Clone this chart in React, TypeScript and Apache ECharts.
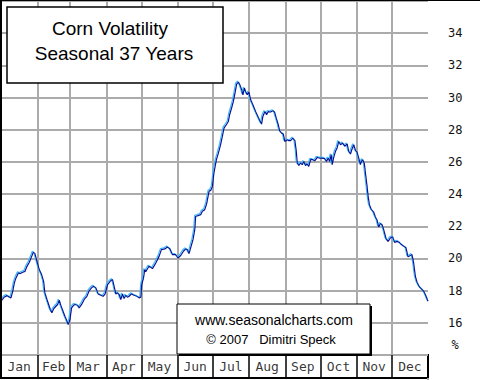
import React, { useEffect, useRef } from "react";
import * as echarts from "echarts";

const monthNames = ["Jan", "Feb", "Mar", "Apr", "May", "Jun", "Jul", "Aug", "Sep", "Oct", "Nov", "Dec"];
const monthStarts = [0, 31, 59, 90, 120, 151, 181, 212, 243, 273, 304, 334, 365];

const yMin = 14;
const yMax = 36;
const yStep = 2;

const days = [
  0.5, 3, 5, 7, 8.5, 10, 11.4, 12.8, 14.8, 16.5,
  18.5, 20.5, 22.2, 24.2, 26.2, 27.6, 29, 30.7, 32.7, 34.7,
  36.4, 37.5, 39.3, 40.7, 42.1, 43.5, 45, 46.9, 48.4, 49.8,
  51.2, 52.7, 54.6, 56.1, 57.4, 58.9, 60.3, 62, 63.2, 65.5,
  66.8, 68.9, 71.1, 73.4, 75.4, 77.4, 79.1, 81.1, 83, 85.3,
  87.3, 89, 91.1, 93.3, 95.3, 96.7, 98.1, 99.6, 101, 102.4,
  103.9, 105.2, 106.7, 108.1, 109.5, 111.5, 113.8, 116.1, 118, 119.5,
  120.3, 121.8, 122.9, 123.7, 125.7, 126.6, 129.5, 132.3, 135.1, 137.1,
  140, 142.3, 144.5, 146.5, 149.3, 151.3, 153.6, 155.9, 157.9, 159.3,
  160.7, 162.1, 164.1, 165.6, 166.4, 168.4, 170.7, 172.1, 174.1, 175.8,
  177.8, 179.2, 180.7, 181.5, 182, 184.1, 185.8, 187.7, 189.2, 190.6,
  192.6, 194.3, 195.4, 197.1, 198.6, 200, 201.4, 202.9, 204.2, 205.7,
  206.8, 208, 209.1, 210.5, 211.9, 213.4, 215.3, 217.6, 219.6, 221.3,
  222.7, 223.8, 225.6, 227, 228.5, 230.4, 232.4, 233.8, 235.3, 237,
  238.1, 239.8, 241.3, 242.6, 244.7, 246, 247.5, 249.5, 251.2, 252.4,
  253.2, 254.6, 256, 257.5, 258.8, 260.3, 261.7, 263.1, 264.6, 266.5,
  268.2, 270.3, 272.2, 274.5, 276.8, 278.2, 279.7, 281, 282.2, 283.1,
  284.4, 285.9, 287.3, 288.7, 290.2, 292.1, 293.8, 295.9, 297.2, 298.7,
  300.1, 301.5, 303, 304.4, 305.8, 307.2, 308.1, 309.2, 310.6, 311.5,
  312.9, 313.8, 314.9, 316.6, 318.6, 320, 321.5, 322.8, 324.3, 325.7,
  327.1, 329.2, 330.9, 332.8, 334.8, 336.5, 338.5, 340.5, 342.2, 344.2,
  346.2, 347.9, 349.9, 351.3, 352.7, 354.2, 355.6, 357.6, 359.9, 361.3,
  362.7, 364.2, 365,
];

const volatility = [
  17.4, 17.61, 17.69, 17.61, 17.55, 17.96, 18.48, 18.79, 19.1, 19.06,
  19.14, 19.2, 19.51, 19.76, 20.13, 20.38, 20.3, 19.82, 19.31, 19.0,
  18.58, 17.86, 17.45, 17.14, 16.83, 16.62, 16.87, 17.03, 17.14, 17.4,
  17.07, 16.78, 16.41, 16.16, 15.89, 16.2, 16.93, 17.09, 17.14, 17.09,
  16.93, 17.14, 17.45, 17.65, 18.0, 18.17, 18.27, 18.17, 17.8, 17.71,
  17.65, 17.8, 18.38, 18.58, 18.69, 18.27, 17.8, 17.86, 17.76, 17.45,
  17.8, 17.51, 17.71, 17.59, 17.65, 17.8, 17.71, 17.65, 17.55, 17.59,
  18.38, 18.79, 19.31, 19.17, 19.42, 19.52, 19.37, 19.72, 20.13, 20.55,
  20.59, 20.71, 20.59, 20.24, 20.24, 20.03, 20.18, 20.45, 20.59, 20.55,
  20.3, 20.66, 21.17, 21.79, 22.62, 22.66, 22.72, 22.93, 23.03, 23.41,
  24.17, 24.23, 24.48, 25.0, 25.31, 26.14, 26.55, 27.07, 27.58, 28.1,
  28.31, 28.51, 28.93, 29.35, 29.76, 30.28, 30.84, 30.96, 30.79, 30.48,
  30.17, 30.59, 30.38, 30.17, 30.34, 29.86, 29.55, 29.13, 28.82, 28.55,
  28.35, 28.82, 29.13, 28.93, 29.13, 29.1, 29.18, 29.1, 28.72, 28.31,
  27.94, 27.79, 27.73, 27.27, 27.38, 27.32, 27.32, 27.48, 27.32, 26.66,
  25.93, 25.78, 25.93, 25.83, 26.03, 25.78, 25.87, 25.72, 26.14, 26.14,
  26.07, 26.28, 26.24, 26.24, 26.2, 26.03, 26.24, 26.03, 26.45, 25.83,
  26.28, 26.66, 26.87, 27.27, 27.07, 27.17, 26.97, 27.12, 26.66, 26.49,
  26.82, 27.07, 26.71, 26.59, 26.24, 25.83, 26.03, 26.14, 25.89, 25.31,
  24.48, 23.86, 23.34, 23.03, 22.87, 22.58, 22.37, 21.96, 22.17, 22.1,
  21.79, 21.21, 21.06, 21.27, 21.34, 21.0, 21.06, 21.0, 20.86, 20.76,
  20.66, 20.1, 20.18, 20.24, 19.72, 18.89, 18.52, 18.24, 18.07, 17.96,
  17.76, 17.49, 17.34,
];

const titleLines = ["Corn Volatility", "Seasonal 37 Years"];
const creditLines = ["www.seasonalcharts.com", "\u00a9 2007   Dimitri Speck"];
const unitLabel = "%";

export default function App() {
  const ref = useRef<HTMLDivElement>(null);

  useEffect(() => {
    if (!ref.current) return;
    const chart = echarts.init(ref.current, null, { renderer: "svg" });

    const n = Math.min(days.length, volatility.length);
    const lineData = [];
    for (let i = 0; i < n; i++) lineData.push([days[i], volatility[i]]);

    const boundaries = monthStarts.slice(1, monthStarts.length - 1);
    const mids = monthNames.map((_, i) => [(monthStarts[i] + monthStarts[i + 1]) / 2, 0.5]);

    const monoFont = "DejaVu Sans Mono";
    const sansFont = "Liberation Sans, Arial, sans-serif";

    chart.setOption({
      animation: false,
      backgroundColor: "#ffffff",
      grid: [
        { left: 1, top: 1, width: 427, height: 354, show: false },
        {
          left: 1,
          top: 355,
          width: 427,
          height: 23,
          show: true,
          borderColor: "#000",
          borderWidth: 2,
          backgroundColor: "#ffffff",
        },
      ],
      xAxis: [
        {
          gridIndex: 0,
          type: "value",
          min: 0,
          max: 365,
          axisLine: { show: false },
          axisTick: { show: false },
          axisLabel: { show: false },
          splitLine: { show: false },
        },
        {
          gridIndex: 1,
          type: "value",
          min: 0,
          max: 365,
          axisLine: { show: false },
          axisTick: { show: false },
          axisLabel: { show: false },
          splitLine: { show: false },
        },
      ],
      yAxis: [
        {
          gridIndex: 0,
          type: "value",
          position: "right",
          min: yMin,
          max: yMax,
          interval: yStep,
          axisLine: { show: true, lineStyle: { color: "#a8a8a8", width: 2 } },
          axisTick: { show: false },
          axisLabel: {
            align: "left",
            margin: 20,
            color: "#111",
            fontFamily: monoFont,
            fontSize: 12,
            formatter: (v: number) => (v === yMin || v === yMax ? "" : String(v)),
          },
          splitLine: { show: true, lineStyle: { color: "#ababab", width: 2 } },
        },
        {
          gridIndex: 1,
          type: "value",
          min: 0,
          max: 1,
          show: false,
        },
      ],
      series: [
        {
          type: "line",
          xAxisIndex: 0,
          yAxisIndex: 0,
          data: [],
          z: 1,
          silent: true,
          markLine: {
            silent: true,
            symbol: ["none", "none"],
            label: { show: false },
            lineStyle: { color: "#ababab", width: 2, type: "solid" },
            data: boundaries.map((d) => ({ xAxis: d })),
          },
        },
        {
          type: "line",
          xAxisIndex: 0,
          yAxisIndex: 0,
          data: lineData,
          showSymbol: false,
          symbol: "none",
          z: 5,
          lineStyle: {
            color: "#0a0a96",
            width: 1.2,
            shadowColor: "#3fb6ff",
            shadowBlur: 0,
            shadowOffsetX: -1,
            shadowOffsetY: -1,
          },
        },
        {
          type: "scatter",
          xAxisIndex: 1,
          yAxisIndex: 1,
          data: mids,
          symbolSize: 1,
          itemStyle: { color: "rgba(0,0,0,0)" },
          silent: true,
          label: {
            show: true,
            position: "inside",
            color: "#000",
            fontFamily: monoFont,
            fontSize: 13,
            formatter: (p: any) => monthNames[p.dataIndex],
          },
          markLine: {
            silent: true,
            symbol: ["none", "none"],
            label: { show: false },
            lineStyle: { color: "#000", width: 1.5, type: "solid" },
            data: boundaries.map((d) => ({ xAxis: d })),
          },
        },
      ],
      graphic: [
        { type: "line", shape: { x1: 1, y1: 0, x2: 1, y2: 378 }, style: { stroke: "#000", lineWidth: 2 }, z: 10 },
        { type: "line", shape: { x1: 0, y1: 0.5, x2: 480, y2: 0.5 }, style: { stroke: "#000", lineWidth: 1 }, z: 10 },
        { type: "line", shape: { x1: 428, y1: 378, x2: 428, y2: 380 }, style: { stroke: "#a8a8a8", lineWidth: 2 }, z: 10 },
        {
          type: "rect",
          shape: { x: 7, y: 7, width: 216, height: 76 },
          style: { fill: "#fff", stroke: "#000", lineWidth: 1.5 },
          z: 20,
        },
        {
          type: "text",
          x: 110,
          y: 28,
          style: {
            text: titleLines[0],
            font: `19px ${sansFont}`,
            fill: "#000",
            textAlign: "center",
            textVerticalAlign: "middle",
          },
          z: 21,
        },
        {
          type: "text",
          x: 114,
          y: 53,
          style: {
            text: titleLines[1],
            font: `19px ${sansFont}`,
            fill: "#000",
            textAlign: "center",
            textVerticalAlign: "middle",
          },
          z: 21,
        },
        {
          type: "rect",
          shape: { x: 179, y: 306, width: 193, height: 50 },
          style: { fill: "#000" },
          z: 19,
        },
        {
          type: "rect",
          shape: { x: 177, y: 304, width: 193, height: 50 },
          style: { fill: "#fff", stroke: "#000", lineWidth: 1 },
          z: 20,
        },
        {
          type: "text",
          x: 274,
          y: 320,
          style: {
            text: creditLines[0],
            font: `14px ${sansFont}`,
            fill: "#000",
            textAlign: "center",
            textVerticalAlign: "middle",
          },
          z: 21,
        },
        {
          type: "text",
          x: 271,
          y: 339,
          style: {
            text: creditLines[1],
            font: `13px ${sansFont}`,
            fill: "#000",
            textAlign: "center",
            textVerticalAlign: "middle",
          },
          z: 21,
        },
        {
          type: "text",
          x: 455,
          y: 345,
          style: {
            text: unitLabel,
            font: `12px ${monoFont}`,
            fill: "#111",
            textAlign: "center",
            textVerticalAlign: "middle",
          },
          z: 21,
        },
      ],
    });

    return () => chart.dispose();
  }, []);

  return (
    <div
      ref={ref}
      style={{ position: "fixed", left: 0, top: 0, width: 480, height: 380, background: "#fff" }}
    />
  );
}
